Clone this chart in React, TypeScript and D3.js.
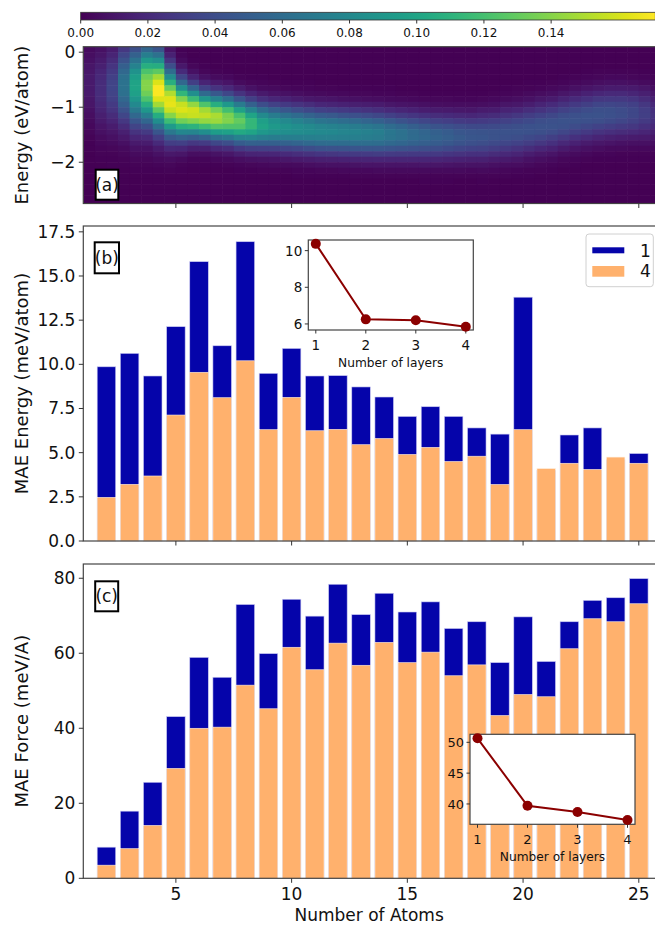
import React from 'react';
import * as d3 from 'd3';

// ---------- data ----------
const atoms = [2, 3, 4, 5, 6, 7, 8, 9, 10, 11, 12, 13, 14, 15, 16, 17, 18, 19, 20, 21, 22, 23, 24, 25];
const energy1 = [9.86, 10.62, 9.34, 12.13, 15.81, 11.05, 16.94, 9.49, 10.9, 9.34, 9.36, 8.72, 8.15, 7.05, 7.6, 7.05, 6.4, 6.05, 13.8, 4.0, 6.0, 6.4, 4.6, 4.95];
const energy4 = [2.47, 3.21, 3.68, 7.13, 9.55, 8.11, 10.2, 6.3, 8.13, 6.24, 6.32, 5.45, 5.8, 4.9, 5.3, 4.5, 4.8, 3.2, 6.3, 4.1, 4.4, 4.05, 4.75, 4.4];
const force1 = [8.3, 17.9, 25.6, 43.1, 58.9, 53.6, 73.0, 59.9, 74.4, 69.9, 78.4, 70.3, 76.0, 71.0, 73.7, 66.6, 68.4, 57.5, 69.7, 57.8, 68.4, 74.1, 74.8, 79.9];
const force4 = [3.5, 7.9, 14.1, 29.3, 40.0, 40.3, 51.5, 45.2, 61.6, 55.6, 62.7, 56.8, 62.9, 57.5, 60.3, 54.0, 56.9, 43.4, 49.0, 48.4, 61.2, 69.2, 68.4, 73.2];
const layers = [1, 2, 3, 4];
const insetEnergy = [10.37, 6.25, 6.2, 5.85];
const insetForce = [50.65, 39.7, 38.7, 37.4];
const cbarTicks = [0, 0.02, 0.04, 0.06, 0.08, 0.1, 0.12, 0.14];
const xTicks = [5, 10, 15, 20, 25];
const yTicksA = [0, -1, -2];
const yTicksB = [0, 2.5, 5, 7.5, 10, 12.5, 15, 17.5];
const yTicksC = [0, 20, 40, 60, 80];
const legendLabels = ['1', '4'];

// heat map: per half-atom column (starting at 1 atom), band centre (eV), peak density, spread (eV)
const heatCenter = [-0.6, -0.68, -0.65, -0.6, -0.62, -0.6, -0.7, -0.92, -1.04, -1.09, -1.14, -1.18, -1.21, -1.26, -1.3, -1.33,
  -1.35, -1.37, -1.39, -1.41, -1.43, -1.44, -1.45, -1.46, -1.47, -1.48, -1.49, -1.5, -1.51, -1.52, -1.53, -1.53, -1.53, -1.53,
  -1.52, -1.5, -1.47, -1.44, -1.4, -1.36, -1.32, -1.27, -1.22, -1.18, -1.14, -1.12, -1.11, -1.11, -1.12, -1.15];
const heatPeak = [0.012, 0.022, 0.035, 0.065, 0.1, 0.14, 0.171, 0.165, 0.162, 0.16, 0.155, 0.15, 0.14, 0.13, 0.115, 0.1,
  0.092, 0.088, 0.085, 0.083, 0.081, 0.08, 0.078, 0.077, 0.075, 0.073, 0.068, 0.064, 0.06, 0.057, 0.054, 0.051, 0.048, 0.046,
  0.045, 0.044, 0.043, 0.043, 0.043, 0.043, 0.043, 0.043, 0.043, 0.043, 0.043, 0.042, 0.04, 0.037, 0.032, 0.025];
const heatWidth = [0.5, 0.5, 0.5, 0.5, 0.5, 0.48, 0.46, 0.4, 0.34, 0.3, 0.28, 0.28, 0.28, 0.28, 0.28, 0.28,
  0.28, 0.28, 0.28, 0.28, 0.28, 0.28, 0.28, 0.28, 0.28, 0.28, 0.28, 0.28, 0.28, 0.28, 0.28, 0.28, 0.28, 0.28,
  0.29, 0.29, 0.3, 0.3, 0.3, 0.3, 0.3, 0.3, 0.3, 0.3, 0.3, 0.3, 0.3, 0.3, 0.3, 0.3];

// ---------- style ----------
const BLUE = '#0504aa';
const ORANGE = '#ffb16d';
const DARKRED = '#8b0000';
const FONT = 'DejaVu Sans, sans-serif';
const AXIS = '#333';

const W = 655;
const H = 926;
const X0 = 83.3;
const X1 = 655;

const x = d3.scaleLinear().domain([1, 25.7]).range([X0, X1]);
const yA = d3.scaleLinear().domain([-2.75, 0.1]).range([203.5, 46.7]);
const yB = d3.scaleLinear().domain([0, 17.83]).range([541, 226]);
const yC = d3.scaleLinear().domain([0, 83.8]).range([878.3, 564]);
const vmax = 0.171;
const color = d3.scaleSequential(d3.interpolateViridis).domain([0, vmax]);
const cbX = d3.scaleLinear().domain([0, vmax]).range([80.7, 655.3]);

const fmtB = (v: number) => v.toFixed(1);
const minus = (s: string) => s.replace('-', '\u2212');

function PanelLabel({ x0, y0, w, h, text }: { x0: number; y0: number; w: number; h: number; text: string }) {
  return (
    <g>
      <rect x={x0} y={y0} width={w} height={h} fill="white" stroke="black" strokeWidth={2} />
      <text x={x0 + w / 2} y={y0 + h / 2 + 6} textAnchor="middle" fontSize={17} fontFamily={FONT} fill="#111">{text}</text>
    </g>
  );
}

function YAxis({ scale, ticks, fmt }: { scale: any; ticks: number[]; fmt: (v: number) => string }) {
  return (
    <g>
      {ticks.map((t) => (
        <g key={t}>
          <line x1={X0 - 4.5} x2={X0} y1={scale(t)} y2={scale(t)} stroke={AXIS} strokeWidth={1} />
          <text x={X0 - 8} y={scale(t) + 6} textAnchor="end" fontSize={17} fontFamily={FONT} fill="#111">{fmt(t)}</text>
        </g>
      ))}
    </g>
  );
}

function XTicks({ y0, labels }: { y0: number; labels: boolean }) {
  return (
    <g>
      {xTicks.map((t) => (
        <g key={t}>
          <line x1={x(t)} x2={x(t)} y1={y0} y2={y0 + 4.5} stroke={AXIS} strokeWidth={1} />
          {labels && (
            <text x={x(t)} y={y0 + 22} textAnchor="middle" fontSize={17} fontFamily={FONT} fill="#111">{t}</text>
          )}
        </g>
      ))}
    </g>
  );
}

function Frame({ top, bottom }: { top: number; bottom: number }) {
  return <rect x={X0} y={top} width={X1 - X0 + 10} height={bottom - top} fill="none" stroke="#444" strokeWidth={1.2} />;
}

function Inset({ left, top, w, h, yDomain, yTicks, values, tickFont }: {
  left: number; top: number; w: number; h: number; yDomain: number[]; yTicks: number[]; values: number[]; tickFont: number;
}) {
  const ix = d3.scaleLinear().domain([0.85, 4.15]).range([left, left + w]);
  const iy = d3.scaleLinear().domain(yDomain).range([top + h, top]);
  const line = d3.line<number>().x((_, i) => ix(layers[i])).y((d) => iy(d));
  return (
    <g>
      <rect x={left} y={top} width={w} height={h} fill="white" stroke="#444" strokeWidth={1.2} />
      {yTicks.map((t) => (
        <g key={t}>
          <line x1={left - 3.5} x2={left} y1={iy(t)} y2={iy(t)} stroke={AXIS} />
          <text x={left - 6} y={iy(t) + 5} textAnchor="end" fontSize={tickFont} fontFamily={FONT} fill="#111">{t}</text>
        </g>
      ))}
      {layers.map((t) => (
        <g key={t}>
          <line x1={ix(t)} x2={ix(t)} y1={top + h} y2={top + h + 3.5} stroke={AXIS} />
          <text x={ix(t)} y={top + h + 20} textAnchor="middle" fontSize={tickFont} fontFamily={FONT} fill="#111">{t}</text>
        </g>
      ))}
      <text x={left + w / 2} y={top + h + 37} textAnchor="middle" fontSize={12.2} fontFamily={FONT} fill="#111">Number of layers</text>
      <path d={line(values) || ''} fill="none" stroke={DARKRED} strokeWidth={2} />
      {values.map((v, i) => (
        <circle key={i} cx={ix(layers[i])} cy={iy(v)} r={5} fill={DARKRED} />
      ))}
    </g>
  );
}

export default function App() {
  const rowTops: number[] = [];
  for (let r = 0; r < 29; r++) rowTops.push(0.1 - 0.1 * r);
  const cells: React.ReactNode[] = [];
  heatCenter.forEach((c, k) => {
    const xa = 1 + 0.5 * k;
    const px0 = x(xa);
    const px1 = x(xa + 0.5);
    rowTops.forEach((e1, r) => {
      const ec = e1 - 0.05;
      const v = heatPeak[k] * Math.exp(-0.5 * Math.pow((ec - c) / heatWidth[k], 2));
      const py0 = yA(e1);
      const py1 = yA(e1 - 0.1);
      cells.push(
        <rect key={`${k}-${r}`} x={px0} y={py0} width={px1 - px0 + 0.6} height={py1 - py0 + 0.6} fill={color(v)} />
      );
    });
  });

  const gradStops = d3.range(0, 1.0001, 0.05);
  const bw = 0.4;
  return (
    <svg width={W} height={H} style={{ position: 'absolute', left: 0, top: 0, background: 'white' }} fontFamily={FONT}>
      <defs>
        <clipPath id="clipA">
          <rect x={X0} y={46.7} width={X1 - X0} height={203.5 - 46.7} />
        </clipPath>
        <linearGradient id="cbar" x1="0" x2="1" y1="0" y2="0">
          {gradStops.map((s) => (
            <stop key={s} offset={s} stopColor={d3.interpolateViridis(s)} />
          ))}
        </linearGradient>
      </defs>
      <rect x={0} y={0} width={W} height={H} fill="white" />

      {/* colorbar */}
      <rect x={cbX(0)} y={12.3} width={cbX(vmax) - cbX(0)} height={7.7} fill="url(#cbar)" stroke="#333" strokeWidth={0.8} />
      {cbarTicks.map((t) => (
        <g key={t}>
          <line x1={cbX(t)} x2={cbX(t)} y1={20} y2={23.5} stroke={AXIS} />
          <text x={cbX(t)} y={37} textAnchor="middle" fontSize={12} fontFamily={FONT} fill="#111">{t.toFixed(2)}</text>
        </g>
      ))}

      {/* panel (a) */}
      <g clipPath="url(#clipA)">{cells}</g>
      <Frame top={46.7} bottom={203.5} />
      <YAxis scale={yA} ticks={yTicksA} fmt={(v) => minus(String(v))} />
      <XTicks y0={203.5} labels={false} />
      <PanelLabel x0={95.7} y0={169.7} w={22.6} h={30} text="(a)" />
      <text transform={`translate(28,${(46.7 + 203.5) / 2}) rotate(-90)`} textAnchor="middle" fontSize={18} fontFamily={FONT} fill="#111">Energy (eV/atom)</text>

      {/* panel (b) */}
      {atoms.map((a, i) => (
        <rect key={`b1-${a}`} x={x(a - bw)} y={yB(energy1[i])} width={x(a + bw) - x(a - bw)} height={yB(0) - yB(energy1[i])}
          fill={BLUE} stroke="#c9c9f2" strokeWidth={0.6} />
      ))}
      {atoms.map((a, i) => (
        <rect key={`b4-${a}`} x={x(a - bw)} y={yB(energy4[i])} width={x(a + bw) - x(a - bw)} height={yB(0) - yB(energy4[i])}
          fill={ORANGE} stroke="#fff0e0" strokeWidth={0.6} />
      ))}
      <Frame top={226} bottom={541} />
      <YAxis scale={yB} ticks={yTicksB} fmt={fmtB} />
      <XTicks y0={541} labels={false} />
      <PanelLabel x0={94.7} y0={242.3} w={24.3} h={31} text="(b)" />
      <text transform={`translate(28,${(226 + 541) / 2}) rotate(-90)`} textAnchor="middle" fontSize={18} fontFamily={FONT} fill="#111">MAE Energy (meV/atom)</text>
      <Inset left={308.3} top={240} w={165} h={90} yDomain={[5.67, 10.58]} yTicks={[6, 8, 10]} values={insetEnergy} tickFont={13.5} />
      <g>
        <rect x={586} y={234} width={67.3} height={52.7} rx={3} fill="white" fillOpacity={0.8} stroke="#d0d0d0" />
        {[BLUE, ORANGE].map((c, i) => (
          <g key={i}>
            <rect x={592.3} y={[247.3, 266][i]} width={32} height={[6, 10.7][i]} fill={c} />
            <text x={640} y={[256.5, 277][i]} fontSize={17} fontFamily={FONT} fill="#111">{legendLabels[i]}</text>
          </g>
        ))}
      </g>

      {/* panel (c) */}
      {atoms.map((a, i) => (
        <rect key={`c1-${a}`} x={x(a - bw)} y={yC(force1[i])} width={x(a + bw) - x(a - bw)} height={yC(0) - yC(force1[i])}
          fill={BLUE} stroke="#c9c9f2" strokeWidth={0.6} />
      ))}
      {atoms.map((a, i) => (
        <rect key={`c4-${a}`} x={x(a - bw)} y={yC(force4[i])} width={x(a + bw) - x(a - bw)} height={yC(0) - yC(force4[i])}
          fill={ORANGE} stroke="#fff0e0" strokeWidth={0.6} />
      ))}
      <Frame top={564} bottom={878.3} />
      <YAxis scale={yC} ticks={yTicksC} fmt={(v) => String(v)} />
      <XTicks y0={878.3} labels={true} />
      <PanelLabel x0={95.2} y0={581.3} w={23} h={30} text="(c)" />
      <text transform={`translate(28,${(564 + 878.3) / 2}) rotate(-90)`} textAnchor="middle" fontSize={18} fontFamily={FONT} fill="#111">MAE Force (meV/A)</text>
      <text x={(X0 + X1) / 2} y={921} textAnchor="middle" fontSize={17} fontFamily={FONT} fill="#111">Number of Atoms</text>
      <Inset left={470} top={734.3} w={165} h={90} yDomain={[36.7, 51.3]} yTicks={[40, 45, 50]} values={insetForce} tickFont={13} />
    </svg>
  );
}
